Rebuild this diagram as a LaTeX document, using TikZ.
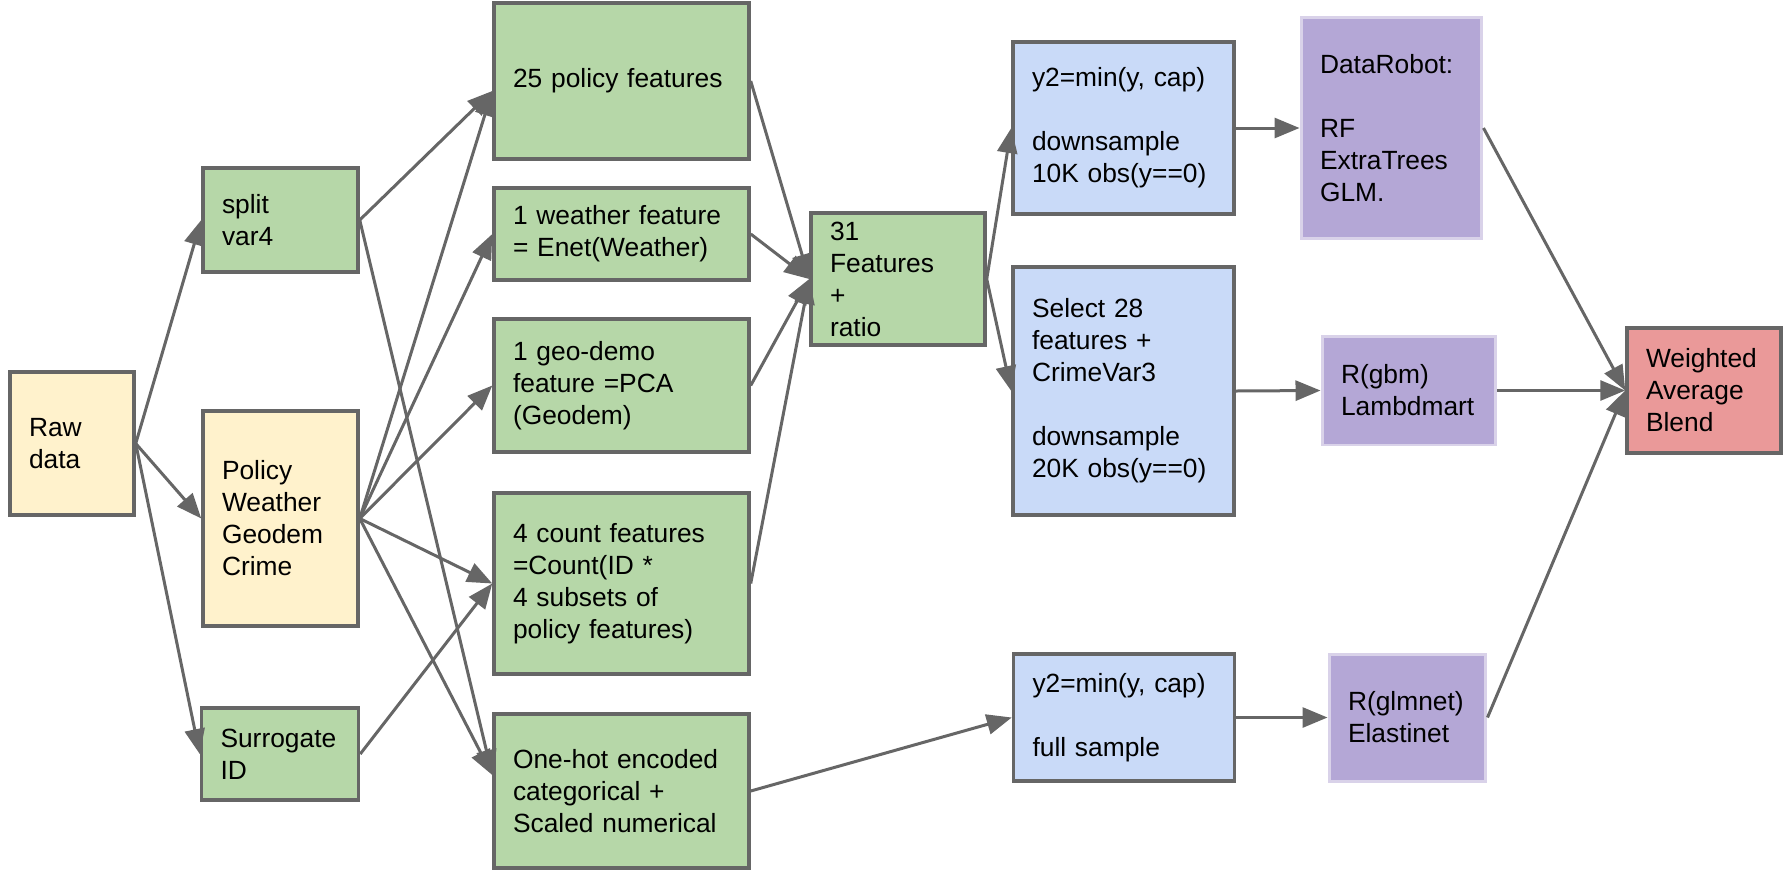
\documentclass[tikz,border=0pt]{standalone}
\usepackage{fontspec}
\setmainfont{Liberation Sans}
\usepackage{tikz}
\usetikzlibrary{arrows.meta}
\definecolor{flowgray}   {RGB}{102, 102, 102}
\definecolor{flowyellow} {RGB}{255, 242, 204}
\definecolor{flowgreen}  {RGB}{182, 215, 168}
\definecolor{flowblue}   {RGB}{201, 218, 248}
\definecolor{flowpurple} {RGB}{180, 167, 214}
\definecolor{flowlilac}  {RGB}{217, 210, 233}
\definecolor{flowred}    {RGB}{234, 153, 153}
\tikzset{
	stage/.style={draw=flowgray, line width=0.07cm, align=left, inner xsep=0.38cm, inner ysep=0pt,
		font=\fontsize{15pt}{18.2pt}\selectfont},
	dims/.style n args={3}{minimum width=#1cm, text width=#2cm, minimum height=#3cm},
	model/.style={stage, draw=flowlilac, fill=flowpurple, line width=0.06cm},
	flow/.style={draw=flowgray, line width=0.06cm, -{Triangle[length=0.5cm,width=0.4cm]}}
}

\begin{document}
\begin{tikzpicture}[x=0.02cm, y=-0.02cm]
				\useasboundingbox (0,0) rectangle (1783,870);
				% inputs
				\node[stage, fill=flowyellow, dims={2.48}{1.72}{2.86}] (raw) at (72,443.5) {Raw\\data};
				\node[stage, fill=flowgreen, dims={3.10}{2.34}{2.08}] (split) at (280.5,220) {split\\var4};
				\node[stage, fill=flowyellow, dims={3.10}{2.34}{4.30}] (sources) at (280.5,518.5) {Policy\\Weather\\Geodem\\Crime};
				\node[stage, fill=flowgreen, dims={3.14}{2.38}{1.84}] (surrogate) at (280,754) {Surrogate\\ID};
				% feature sets
				\node[stage, fill=flowgreen, dims={5.10}{4.34}{3.12}] (policy) at (621.5,81) {25 policy features};
				\node[stage, fill=flowgreen, dims={5.10}{4.34}{1.84}] (weather) at (621.5,234) {1 weather feature\\= Enet(Weather)};
				\node[stage, fill=flowgreen, dims={5.10}{4.34}{2.66}] (geodemo) at (621.5,385.5) {1 geo-demo\\feature =PCA\\(Geodem)};
				\node[stage, fill=flowgreen, dims={5.10}{4.34}{3.62}] (count) at (621.5,583.5) {4 count features\\=Count(ID *\\4 subsets of\\policy features)};
				\node[stage, fill=flowgreen, dims={5.10}{4.34}{3.08}] (onehot) at (621.5,791) {One-hot encoded\\categorical +\\Scaled numerical};
				\node[stage, fill=flowgreen, dims={3.48}{2.72}{2.64}] (feat) at (898,279) {31\\Features\\+\\ratio};
				% samples
				\node[stage, fill=flowblue, dims={4.42}{3.66}{3.44}] (capten) at (1123.5,128) {y2=min(y, cap)\\[\baselineskip]downsample\\10K obs(y==0)};
				\node[stage, fill=flowblue, dims={4.42}{3.66}{4.96}] (select) at (1123.5,391) {Select 28\\features +\\CrimeVar3\\[\baselineskip]downsample\\20K obs(y==0)};
				\node[stage, fill=flowblue, dims={4.42}{3.66}{2.54}] (capfull) at (1124,717.5) {y2=min(y, cap)\\[\baselineskip]full sample};
				% models
				\node[model, dims={3.62}{2.86}{4.44}] (robot) at (1391.5,128) {DataRobot:\\[\baselineskip]RF\\ExtraTrees\\GLM.};
				\node[model, dims={3.48}{2.72}{2.18}] (gbm) at (1409,390.5) {R(gbm)\\Lambdmart};
				\node[model, dims={3.14}{2.38}{2.54}] (glmnet) at (1407.5,717.5) {R(glmnet)\\Elastinet};
				\node[stage, fill=flowred, dims={3.08}{2.32}{2.50}] (blend) at (1704,390.5) {Weighted\\Average\\Blend};
				% connectors
				\draw[flow] (raw.east) -- (split.west);
				\draw[flow] (raw.east) -- (sources.west);
				\draw[flow] (raw.east) -- (surrogate.west);
				\draw[flow] (split.east) -- ([yshift=-0.2cm]policy.west);
				\draw[flow] (split.east) -- ([yshift=0.32cm]onehot.west);
				\draw[flow] (sources.east) -- ([yshift=-0.2cm]policy.west);
				\draw[flow] (sources.east) -- (weather.west);
				\draw[flow] (sources.east) -- (geodemo.west);
				\draw[flow] (sources.east) -- (count.west);
				\draw[flow] (sources.east) -- ([yshift=0.32cm]onehot.west);
				\draw[flow] (surrogate.east) -- (count.west);
				\draw[flow] (policy.east) -- (feat.west);
				\draw[flow] (weather.east) -- (feat.west);
				\draw[flow] (geodemo.east) -- (feat.west);
				\draw[flow] (count.east) -- (feat.west);
				\draw[flow] (feat.east) -- (capten.west);
				\draw[flow] (feat.east) -- (select.west);
				\draw[flow] (onehot.east) -- (capfull.west);
				\draw[flow] (capten.east) -- (robot.west);
				\draw[flow] (select.east) -- (gbm.west);
				\draw[flow] (capfull.east) -- (glmnet.west);
				\draw[flow] (robot.east) -- (blend.west);
				\draw[flow] (gbm.east) -- (blend.west);
				\draw[flow] (glmnet.east) -- (blend.west);
			\end{tikzpicture}
\end{document}
